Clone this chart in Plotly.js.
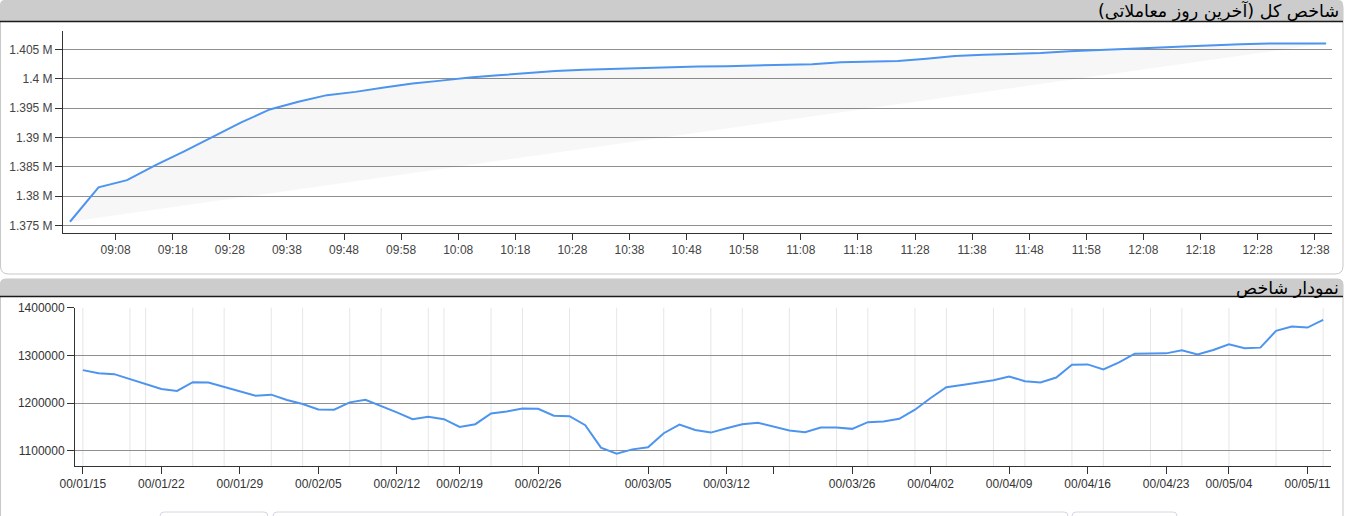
<!DOCTYPE html>
<html><head><meta charset="utf-8">
<script src="https://cdn.plot.ly/plotly-3.0.1.min.js"></script>
<style>html,body{margin:0;padding:0;background:#fff;overflow:hidden}#chart{width:1347px;height:516px}</style>
</head><body><div id="chart"></div>
<script>
const W = 1347, H = 516;

// ---- top chart: intraday index (last trading day) ----
const topTitle = 'شاخص کل (آخرین روز معاملاتی)';
const sessionDate = '2021-06-13';
const times = ["09:00","09:05","09:10","09:15","09:20","09:25","09:30","09:35","09:40","09:45","09:50","09:55",
               "10:00","10:05","10:10","10:15","10:20","10:25","10:30","10:35","10:40","10:45","10:50","10:55",
               "11:00","11:05","11:10","11:15","11:20","11:25","11:30","11:35","11:40","11:45","11:50","11:55",
               "12:00","12:05","12:10","12:15","12:20","12:25","12:30","12:35","12:40"];
const intradayValues = [1375610,1381480,1382720,1385280,1387620,1390110,1392560,1394780,1396080,1397220,1397780,1398530,
                        1399210,1399700,1400250,1400600,1400950,1401350,1401550,1401700,1401830,1401970,1402100,1402170,
                        1402240,1402330,1402500,1402840,1402920,1403050,1403450,1403900,1404100,1404250,1404400,1404700,
                        1404940,1405130,1405330,1405510,1405750,1405900,1406020,1406030,1406030];
const topYTicks = [1375000,1380000,1385000,1390000,1395000,1400000,1405000];
const topYTickText = ['1.375 M','1.38 M','1.385 M','1.39 M','1.395 M','1.4 M','1.405 M'];

// ---- bottom chart: daily index ----
const bottomTitle = 'نمودار شاخص';
const dates = ["00/01/15","00/01/16","00/01/17","00/01/18","00/01/21",
               "00/01/22","00/01/23","00/01/24","00/01/25","00/01/28",
               "00/01/29","00/01/30","00/01/31","00/02/01","00/02/04",
               "00/02/05","00/02/06","00/02/07","00/02/08","00/02/11",
               "00/02/12","00/02/13","00/02/15","00/02/18",
               "00/02/19","00/02/20","00/02/21","00/02/22","00/02/25",
               "00/02/26","00/02/27","00/02/28","00/02/29","00/03/01","00/03/02","00/03/03",
               "00/03/05","00/03/08","00/03/09","00/03/10","00/03/11",
               "00/03/12","00/03/16","00/03/17","00/03/18","00/03/19","00/03/22","00/03/23","00/03/24",
               "00/03/26","00/03/29","00/03/30","00/03/31","00/04/01",
               "00/04/02","00/04/05","00/04/06","00/04/07","00/04/08",
               "00/04/09","00/04/12","00/04/13","00/04/14","00/04/15",
               "00/04/16","00/04/19","00/04/20","00/04/21","00/04/22",
               "00/04/23","00/04/26","00/04/27","00/04/28",
               "00/05/04","00/05/05","00/05/06","00/05/07","00/05/10",
               "00/05/11","00/05/12"];
const dailyValues = [1269000,1262700,1260600,1250000,1239400,1229600,1225400,1243700,1243000,1233800,
                     1224000,1215500,1217600,1206300,1197900,1186600,1185900,1201400,1207000,1194400,
                     1180300,1166200,1171100,1166200,1150000,1155600,1178000,1182400,1188700,1188000,
                     1173300,1172500,1153500,1106400,1093700,1102800,1107000,1136600,1154900,1143300,
                     1138000,1147000,1155600,1158500,1150000,1142300,1138700,1148600,1148600,1145800,
                     1159900,1161300,1166900,1186000,1210600,1233100,1238000,1243700,1247900,1255600,
                     1245800,1243000,1253500,1280300,1281000,1270400,1285200,1303500,1303500,1304200,
                     1310600,1302100,1311300,1323200,1314800,1316200,1351400,1360600,1358400,1374600];
const labelDates = ["00/01/15","00/01/22","00/01/29","00/02/05","00/02/12","00/02/19","00/02/26","00/03/05","00/03/12",
                    "00/03/18","00/03/26","00/04/02","00/04/09","00/04/16","00/04/23","00/05/04","00/05/11"];
const labelTexts = ["00/01/15","00/01/22","00/01/29","00/02/05","00/02/12","00/02/19","00/02/26","00/03/05","00/03/12",
                    "","00/03/26","00/04/02","00/04/09","00/04/16","00/04/23","00/05/04","00/05/11"];
const gridDates = ["00/01/15","00/01/18","00/01/21","00/01/24","00/01/28","00/01/31","00/02/04","00/02/07","00/02/11",
                   "00/02/15","00/02/18","00/02/21","00/02/25","00/02/28","00/03/02","00/03/08","00/03/11","00/03/16",
                   "00/03/19","00/03/24","00/03/29","00/04/01","00/04/05","00/04/08","00/04/12","00/04/15","00/04/19",
                   "00/04/22","00/04/26","00/05/04","00/05/07","00/05/12"];
const bottomYTicks = [1100000,1200000,1300000,1400000];

// ---- helpers (pixel -> paper) ----
const PX = x => x / W;
const PY = y => 1 - y / H;
function roundRect(x0, y0, x1, y1, rTop, rBot) {
  const p = (x, y) => PX(x) + ',' + PY(y);
  return 'M' + p(x0 + rTop, y0) + ' L' + p(x1 - rTop, y0) + ' Q' + p(x1, y0) + ' ' + p(x1, y0 + rTop) +
         ' L' + p(x1, y1 - rBot) + ' Q' + p(x1, y1) + ' ' + p(x1 - rBot, y1) +
         ' L' + p(x0 + rBot, y1) + ' Q' + p(x0, y1) + ' ' + p(x0, y1 - rBot) +
         ' L' + p(x0, y0 + rTop) + ' Q' + p(x0, y0) + ' ' + p(x0 + rTop, y0) + ' Z';
}
function hline(x0, x1, y, color, width) {
  return {type:'line', xref:'paper', yref:'paper', x0:PX(x0), x1:PX(x1), y0:PY(y), y1:PY(y),
          line:{color:color, width:width}, layer:'below'};
}

const BLUE = '#4d94ef';
const tickFont = {family:'Arial, "Liberation Sans", sans-serif', size:12, color:'#444'};
const tickFont2 = {family:'Arial, "Liberation Sans", sans-serif', size:12, color:'#333'};

const traces = [
  {x: times.map(t => sessionDate + ' ' + t), y: intradayValues, type:'scatter', mode:'lines',
   line:{color:BLUE, width:2}, fill:'toself', fillcolor:'rgba(0,0,0,0.03)', xaxis:'x', yaxis:'y', hoverinfo:'x+y'},
  {x: dates, y: dailyValues, type:'scatter', mode:'lines',
   line:{color:BLUE, width:2}, xaxis:'x2', yaxis:'y2', hoverinfo:'x+y'}
];

const shapes = [
  // top panel
  {type:'path', xref:'paper', yref:'paper', path: roundRect(0.5, 2, 1343, 274, 6, 8),
   fillcolor:'#ffffff', line:{color:'#c8c8c8', width:1}, layer:'below'},
  {type:'path', xref:'paper', yref:'paper', path: roundRect(0, 0, 1343, 21, 5, 0),
   fillcolor:'#cccccc', line:{width:0}, layer:'below'},
  hline(0, 1343, 21.5, '#1a1a1a', 1.5),
  // bottom panel
  {type:'path', xref:'paper', yref:'paper', path: roundRect(0.5, 279, 1343, 530, 6, 0),
   fillcolor:'#ffffff', line:{color:'#c8c8c8', width:1}, layer:'below'},
  {type:'path', xref:'paper', yref:'paper', path: roundRect(0, 279, 1343, 296, 5, 0),
   fillcolor:'#cccccc', line:{width:0}, layer:'below'},
  hline(0, 1343, 296.5, '#1a1a1a', 1.5),
  // tabs peeking at the bottom
  {type:'path', xref:'paper', yref:'paper', path: roundRect(160, 512, 268, 530, 4, 0),
   fillcolor:'rgba(0,0,0,0)', line:{color:'#d6d6e6', width:1}, layer:'below'},
  {type:'path', xref:'paper', yref:'paper', path: roundRect(273, 512, 1068, 530, 4, 0),
   fillcolor:'rgba(0,0,0,0)', line:{color:'#d6d6e6', width:1}, layer:'below'},
  {type:'path', xref:'paper', yref:'paper', path: roundRect(1072, 512, 1177, 530, 4, 0),
   fillcolor:'rgba(0,0,0,0)', line:{color:'#d6d6e6', width:1}, layer:'below'}
].concat(gridDates.map(d => ({type:'line', xref:'x2', yref:'y2 domain', x0:d, x1:d, y0:0, y1:1,
                               line:{color:'#e6e6e6', width:1}, layer:'below'})));

const titleFont = {family:'Tahoma, "DejaVu Sans", sans-serif', size:17.5, color:'#000'};
const annotations = [
  {text:'\u200F' + topTitle + '\u200F', xref:'paper', yref:'paper', x:PX(1341), y:PY(11), xanchor:'right', yanchor:'middle',
   showarrow:false, font:titleFont},
  {text:'\u200F' + bottomTitle + '\u200F', xref:'paper', yref:'paper', x:PX(1341), y:PY(287.5), xanchor:'right', yanchor:'middle',
   showarrow:false, font:titleFont}
];

const axisCommon = {showline:true, linecolor:'#333', linewidth:1, ticks:'outside', tickcolor:'#333',
                    zeroline:false, fixedrange:true};

const layout = {
  width:W, height:H, autosize:false,
  margin:{l:0, r:0, t:0, b:0, pad:0},
  paper_bgcolor:'#ffffff', plot_bgcolor:'rgba(0,0,0,0)',
  showlegend:false, hovermode:'closest',
  xaxis: Object.assign({}, axisCommon, {
    type:'date', domain:[PX(63), PX(1332)], anchor:'y',
    range:[sessionDate + ' 08:58:47', sessionDate + ' 12:41:02'],
    tickmode:'linear', tick0: sessionDate + ' 09:08', dtick: 600000, tickformat:'%H:%M',
    ticklen:6, showgrid:false, tickfont:tickFont
  }),
  yaxis: Object.assign({}, axisCommon, {
    domain:[PY(233), PY(31)], anchor:'x',
    range:[1373690, 1408170], tickmode:'array', tickvals: topYTicks, ticktext: topYTickText,
    ticklen:7, showgrid:true, gridcolor:'#8f8f8f', gridwidth:1, tickfont:tickFont
  }),
  xaxis2: Object.assign({}, axisCommon, {
    type:'category', domain:[PX(75), PX(1331)], anchor:'y2',
    categoryorder:'array', categoryarray: dates, range:[-0.5, dates.length - 0.5],
    tickmode:'array', tickvals: labelDates, ticktext: labelTexts,
    ticklen:7, showgrid:false, tickfont:tickFont2
  }),
  yaxis2: Object.assign({}, axisCommon, {
    domain:[PY(466), PY(307.7)], anchor:'x2',
    range:[1067900, 1400000], tickmode:'array', tickvals: bottomYTicks, tickformat:'d',
    ticklen:7, showgrid:true, gridcolor:'#8f8f8f', gridwidth:1, tickfont:tickFont2
  }),
  shapes: shapes,
  annotations: annotations
};

Plotly.newPlot('chart', traces, layout, {displayModeBar:false, responsive:false});
</script>
</body></html>
